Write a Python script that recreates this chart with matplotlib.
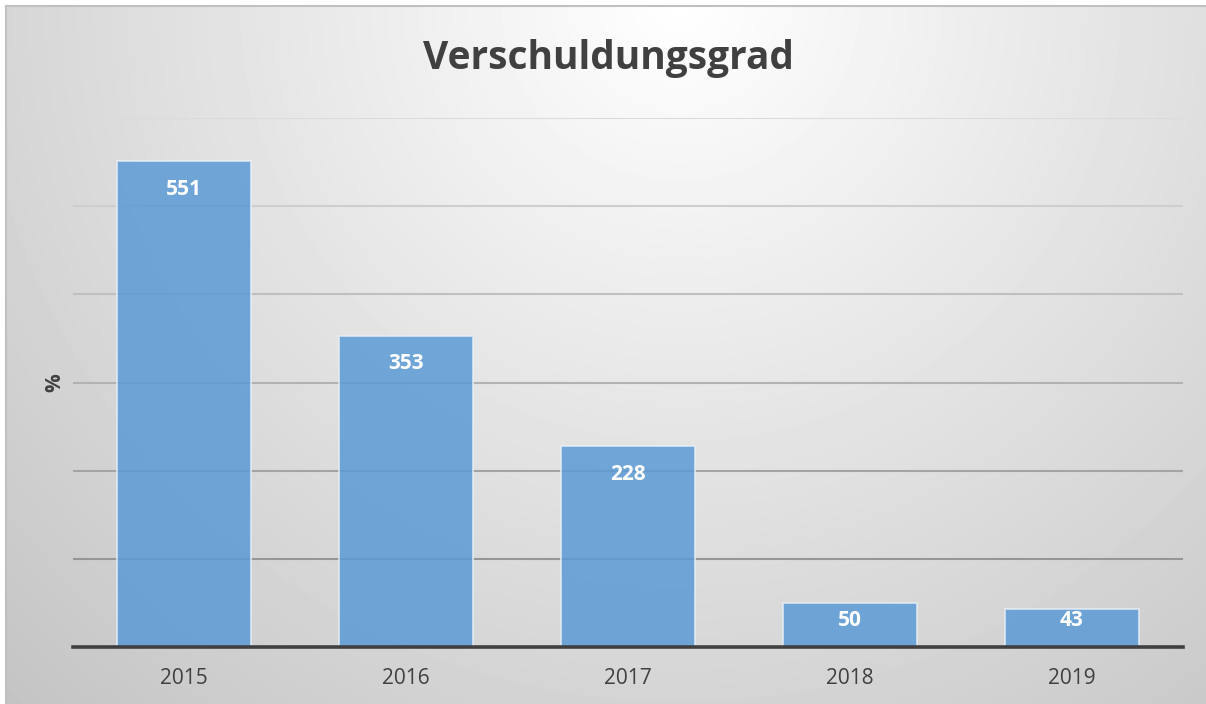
# Verschuldungsgrad 2015-2019, Excel-artige Saeulengrafik
import numpy as np
import matplotlib.pyplot as plt

jahre = ['2015', '2016', '2017', '2018', '2019']
werte = [551, 353, 228, 50, 43]
titel = 'Verschuldungsgrad'
y_label = '%'

plt.rcParams['font.family'] = ['Open Sans', 'DejaVu Sans']

W, H = 1206, 704
fig = plt.figure(figsize=(W / 100, H / 100), dpi=100)
fig.patch.set_facecolor('white')

# hintergrund: radialer verlauf, hell oben mitte
bg = fig.add_axes([6 / W, 0, 1200 / W, 698 / H])
yy, xx = np.mgrid[0:698, 0:1200]
r = np.sqrt((xx - 674) ** 2 + (yy + 6) ** 2)
grau = np.clip(255 - 58 * r / 950, 185, 255) / 255
bg.imshow(grau, cmap='gray', vmin=0, vmax=1, aspect='auto', interpolation='bilinear')
bg.set_xticks([])
bg.set_yticks([])
for k, s in bg.spines.items():
    s.set_color('#c0c0c0')
    s.set_linewidth(1.5)
    if k in ('right', 'bottom'):
        s.set_visible(False)

ax = fig.add_axes([73 / W, (H - 647) / H, 1110 / W, (647 - 118) / H])
ax.patch.set_alpha(0)
ax.set_xlim(-0.5, 4.5)
ax.set_ylim(0, 600)

# gitterlinien, nach unten dunkler
for g in range(100, 601, 100):
    c = 0.86 - 0.27 * (600 - g) / 500
    ax.axhline(g, color=(c, c, c), linewidth=1.5, zorder=1)

x = np.arange(len(jahre))
ax.bar(x, werte, width=0.6, color='#5b9bd5', alpha=0.85,
       edgecolor='#e8f0f8', linewidth=1.2, zorder=2)

for xi, v in zip(x, werte):
    ax.text(xi, max(v - 32, 30), str(v), ha='center', va='center',
            color='white', fontsize=15, fontweight='bold', zorder=3)

ax.axhline(0, color='#404040', linewidth=2.6, zorder=4, clip_on=False)

ax.set_xticks(x)
ax.set_xticklabels(jahre, fontsize=15, color='#404040')
ax.tick_params(axis='x', length=0, pad=15)
ax.set_yticks([])
for s in ax.spines.values():
    s.set_visible(False)

fig.text(55 / W, 1 - 383 / H, y_label, rotation=90, ha='center', va='center',
         fontsize=15, fontweight='bold', color='#404040')
fig.text(608 / W, 1 - 58 / H, titel, ha='center', va='center',
         fontsize=28, fontweight='bold', color='#404040')

fig.savefig('out.png', dpi=100)
